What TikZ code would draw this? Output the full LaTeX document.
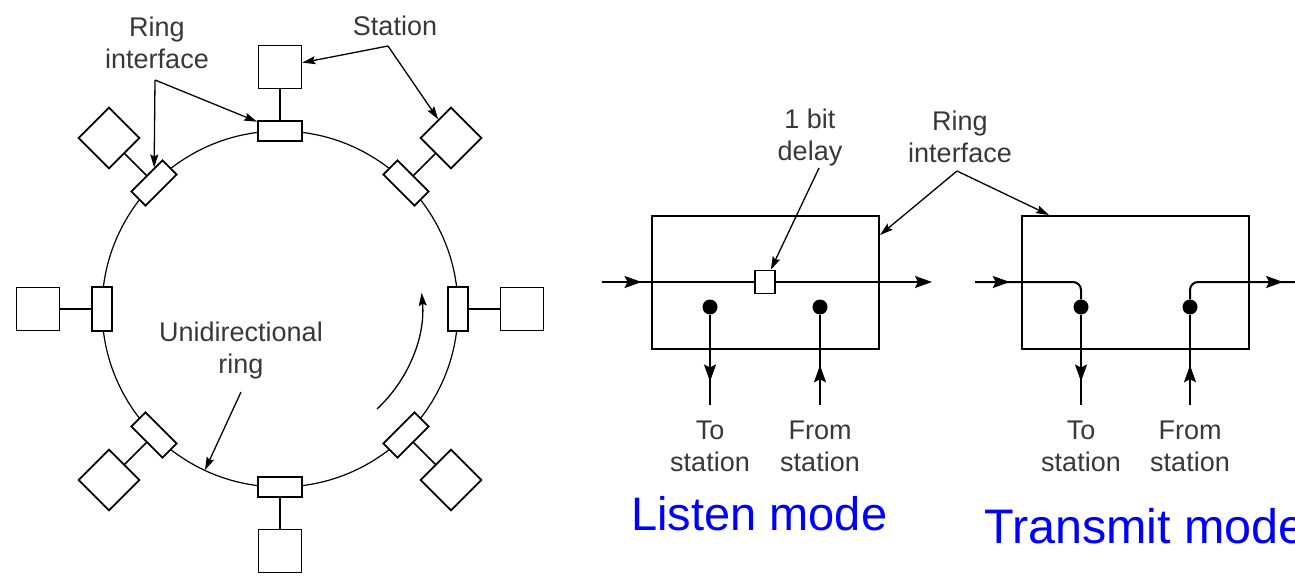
\documentclass[tikz,border=0pt]{standalone}
\usepackage{fontspec}
\setmainfont{Liberation Sans}
\usetikzlibrary{arrows.meta,decorations.markings}

\begin{document}
\begin{tikzpicture}[x=1pt, y=-1pt, >={Stealth[length=13pt,width=8pt,inset=2pt]},
                    font=\fontsize{27}{32}\selectfont]

\tikzstyle{iface}    = [rectangle, draw, fill=white, line width=1.7pt,
                        minimum width=20pt, minimum height=44pt, inner sep=0pt]
\tikzstyle{station}  = [rectangle, draw, fill=white, line width=1.7pt,
                        minimum size=43pt, inner sep=0pt]
\tikzstyle{link}     = [line width=1.7pt]
\tikzstyle{note}     = [align=center, text=black!78, inner sep=0pt]
\tikzstyle{pointer}  = [->, line width=1.3pt]
\tikzstyle{modebox}  = [rectangle, draw, line width=2pt,
                        minimum width=227pt, minimum height=133pt]
\tikzstyle{delaybox} = [rectangle, draw, fill=white, line width=1.7pt,
                        minimum width=20pt, minimum height=23pt, inner sep=0pt]
\tikzstyle{wire}     = [line width=2pt]
\tikzstyle{wireout}  = [wire, -{Stealth[length=17pt,width=12pt,inset=3pt]}]
\tikzstyle{tap}      = [circle, fill, inner sep=0pt, minimum size=15pt]
\tikzstyle{mode}     = [text=blue, font=\fontsize{47}{56}\selectfont,
                        inner sep=0pt, anchor=base west]
\tikzset{midarr/.style={postaction={decorate}, decoration={markings,
         mark=at position #1 with {\arrow{Stealth[length=17pt,width=12pt,inset=3pt]}}}}}

\useasboundingbox (0,0) rectangle (1295,576);

% ── Ring ──────────────────────────────────────────────
\coordinate (c) at (280,309);
\draw[line width=1.2pt] (c) circle[radius=178];

% ── Ring interfaces ───────────────────────────────────
\node[iface]              (if0)   at (458,309) {};
\node[iface, rotate=-45]  (if45)  at (406,435) {};
\node[iface, rotate=-90]  (if90)  at (280,487) {};
\node[iface, rotate=-135] (if135) at (154,435) {};
\node[iface, rotate=-180] (if180) at (102,309) {};
\node[iface, rotate=-225] (if225) at (154,183) {};
\node[iface, rotate=-270] (if270) at (280,131) {};
\node[iface, rotate=-315] (if315) at (406,183) {};

% ── Stations ──────────────────────────────────────────
\node[station]              (st0)   at (522,309) {};
\node[station, rotate=-45]  (st45)  at (451,480) {};
\node[station]              (st90)  at (280,551) {};
\node[station, rotate=-135] (st135) at (109,480) {};
\node[station]              (st180) at (38,309)  {};
\node[station, rotate=-225] (st225) at (109,138) {};
\node[station]              (st270) at (280,67)  {};
\node[station, rotate=-315] (st315) at (451,138) {};

\draw[link] (if0)   -- (st0);
\draw[link] (if45)  -- (st45);
\draw[link] (if90)  -- (st90);
\draw[link] (if135) -- (st135);
\draw[link] (if180) -- (st180);
\draw[link] (if225) -- (st225);
\draw[link] (if270) -- (st270);
\draw[link] (if315) -- (st315);

% ── Direction of travel ──────────────────────────────
\coordinate (flow) at (377,409);
\draw[pointer] (flow) arc[start angle=47, end angle=-5, radius=142];

% ── Labels on the ring ───────────────────────────────
\node[note] (ringlbl) at (157,43) {Ring\\interface};
\coordinate (ringptr) at (155,80);
\draw[pointer] (ringptr) -- (if225);
\draw[pointer] (ringptr) -- (if270);

\node[note] (stlbl) at (395,26) {Station};
\coordinate (stptr) at (388,46);
\draw[pointer] (stptr) -- (st270);
\draw[pointer] (stptr) -- (st315);

\node[note] (unilbl) at (241,351) {Unidirectional\\ring};
\coordinate (uniptr) at (241,392);
\coordinate (ringpt) at (205,470);
\draw[pointer] (uniptr) -- (ringpt);

% ── Listen mode ───────────────────────────────────────
\node[modebox]  (lbox)  at (765.5,282.5) {};
\node[delaybox] (delay) at (765,282) {};
\coordinate (lin)  at (602,282);
\coordinate (lout) at (932,282);
\draw[wire, midarr=0.26] (lin) -- (delay);
\draw[wireout] (delay) -- (lout);

\node[tap] (ltapA) at (710,307) {};
\node[tap] (ltapB) at (820,307) {};
\coordinate (ltoA)   at (710,405);
\coordinate (lfromB) at (820,405);
\draw[wire, midarr=0.74] (ltapA) -- (ltoA);
\draw[wire, midarr=0.44] (lfromB) -- (ltapB);

\node[note] (ltolbl)   at (710,446) {To\\station};
\node[note] (lfromlbl) at (820,446) {From\\station};

\node[note] (delaylbl) at (810,138) {1 bit\\delay};
\coordinate (delayptr) at (819,168);
\draw[pointer] (delayptr) -- (delay);

% ── Transmit mode ─────────────────────────────────────
\node[modebox] (rbox) at (1135.5,282.5) {};
\node[tap] (ttapA) at (1081,307) {};
\node[tap] (ttapB) at (1190,307) {};
\coordinate (tin)    at (975,282);
\coordinate (tout)   at (1295,282);
\coordinate (ttoA)   at (1081,405);
\coordinate (tfromB) at (1190,405);
\draw[wire, rounded corners=8pt, midarr=0.29] (tin) -| (ttapA);
\draw[wire, midarr=0.74] (ttapA) -- (ttoA);
\draw[wire, midarr=0.44] (tfromB) -- (ttapB);
\draw[wire, rounded corners=8pt, midarr=0.9] (ttapB) |- (tout);

\node[note] (ttolbl)   at (1081,446) {To\\station};
\node[note] (tfromlbl) at (1190,446) {From\\station};

% ── Ring interface label, shared ─────────────────────
\node[note] (riflbl) at (960,137) {Ring\\interface};
\coordinate (rifptr) at (957,171);
\draw[pointer] (rifptr) -- ([yshift=-20pt]lbox.north east);
\draw[pointer] (rifptr) -- ([xshift=28pt]rbox.north west);

% ── Mode titles ───────────────────────────────────────
\node[mode] (listen)   at (631,530) {Listen mode};
\node[mode, font=\fontsize{48.5}{56}\selectfont] (transmit) at (984,543) {Transmit mode};

\end{tikzpicture}
\end{document}
